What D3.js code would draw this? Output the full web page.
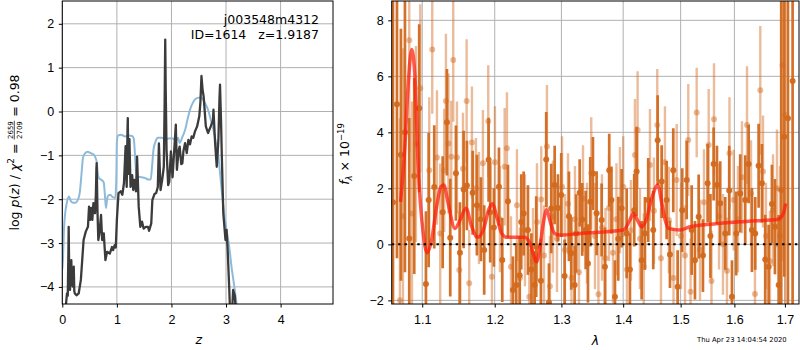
<!DOCTYPE html>
<html>
<head>
<meta charset="utf-8">
<title>p(z) and spectrum</title>
<script src="https://d3js.org/d3.v7.min.js"></script>
<style>
  body { margin: 0; background: #fff; }
  svg { font-family: "DejaVu Sans", sans-serif; }
  .tick text { font-size: 12.5px; fill: #000; }
  .tick line { stroke: #000; stroke-width: 1; }
  .grid line { stroke: #b0b0b0; stroke-width: 1; }
  .pre { white-space: pre; }
</style>
</head>
<body>
<svg id="fig" width="800" height="350"></svg>
<script>

// ---- left panel: log p(z) ----
var blueZ = [0, 0.013, 0.03, 0.05, 0.08, 0.12, 0.16, 0.2, 0.24, 0.29, 0.32, 0.34, 0.36, 0.38, 0.42, 0.46, 0.52, 0.57, 0.6, 0.63, 0.65, 0.67, 0.72, 0.76, 0.78, 0.8, 0.82, 0.84, 0.88, 0.92, 0.97, 0.99, 1.0, 1.02, 1.08, 1.15, 1.22, 1.28, 1.31, 1.33, 1.35, 1.38, 1.45, 1.52, 1.58, 1.62, 1.645, 1.67, 1.71, 1.75, 1.82, 1.9, 2.0, 2.05, 2.09, 2.12, 2.15, 2.2, 2.25, 2.3, 2.34, 2.38, 2.43, 2.48, 2.53, 2.58, 2.63, 2.67, 2.72, 2.77, 2.82, 2.86, 2.89, 2.92, 2.95, 2.98, 3.01, 3.04, 3.07, 3.1, 3.13, 3.16, 3.2, 3.25];
var blueLogP = [-3.6, -3.35, -2.7, -2.35, -2.1, -1.94, -2.05, -2.08, -2.08, -2.0, -1.85, -1.6, -1.3, -1.05, -0.95, -0.92, -0.95, -0.98, -1.03, -1.15, -1.4, -1.52, -1.56, -1.62, -1.9, -2.2, -2.0, -1.92, -1.9, -1.95, -1.97, -1.5, -0.7, -0.55, -0.53, -0.57, -0.55, -0.56, -0.62, -0.95, -1.35, -1.48, -1.5, -1.52, -1.55, -1.55, -1.25, -0.88, -0.68, -0.6, -0.6, -0.62, -0.61, -0.63, -0.66, -0.6, -0.72, -0.58, -0.42, -0.15, 0.04, 0.17, 0.27, 0.31, 0.32, 0.27, 0.15, 0.04, -0.18, -0.42, -0.75, -1.03, -1.4, -1.79, -2.15, -2.47, -2.7, -2.93, -3.2, -3.54, -3.8, -4.07, -4.45, -5.0];

var blackZ = [0.06, 0.068, 0.086, 0.1, 0.112, 0.117, 0.125, 0.13, 0.141, 0.155, 0.165, 0.175, 0.19, 0.2, 0.21, 0.22, 0.23, 0.26, 0.3, 0.34, 0.37, 0.39, 0.43, 0.47, 0.49, 0.51, 0.53, 0.55, 0.57, 0.6, 0.615, 0.625, 0.63, 0.645, 0.66, 0.68, 0.7, 0.71, 0.73, 0.76, 0.79, 0.82, 0.87, 0.91, 0.93, 0.96, 0.98, 1.0, 1.03, 1.07, 1.1, 1.13, 1.16, 1.18, 1.195, 1.2, 1.21, 1.23, 1.25, 1.28, 1.3, 1.32, 1.35, 1.37, 1.4, 1.43, 1.46, 1.49, 1.53, 1.57, 1.59, 1.63, 1.65, 1.69, 1.72, 1.75, 1.77, 1.8, 1.83, 1.86, 1.875, 1.886, 1.895, 1.91, 1.94, 1.96, 1.99, 2.02, 2.05, 2.08, 2.1, 2.13, 2.15, 2.18, 2.2, 2.22, 2.25, 2.28, 2.31, 2.34, 2.37, 2.4, 2.43, 2.47, 2.51, 2.53, 2.55, 2.57, 2.59, 2.63, 2.67, 2.72, 2.76, 2.77, 2.8, 2.83, 2.86, 2.88, 2.89, 2.91, 2.92, 2.95, 2.99, 3.01, 3.03, 3.06, 3.08, 3.11, 3.13, 3.16, 3.2, 3.24];
var blackLogP = [-4.6, -4.39, -4.15, -4.2, -3.2, -2.63, -3.5, -3.8, -4.07, -3.6, -3.39, -3.9, -3.99, -3.7, -3.54, -4.1, -4.15, -4.19, -4.15, -3.84, -3.3, -2.93, -2.74, -2.63, -2.17, -2.47, -2.2, -2.47, -2.09, -2.32, -1.9, -1.3, -1.18, -2.3, -2.93, -2.78, -2.5, -2.36, -2.93, -2.78, -3.39, -3.2, -3.24, -3.09, -3.16, -3.05, -3.1, -2.47, -1.86, -1.82, -1.9, -1.63, -0.79, -1.72, -0.4, -0.15, -1.42, -0.63, -1.72, -1.45, -1.79, -1.56, -1.82, -1.03, -2.17, -2.63, -2.51, -2.67, -2.63, -2.63, -2.72, -2.55, -2.02, -1.88, -1.86, -1.72, -0.73, -1.79, -1.56, -1.26, 0.2, 1.64, 0.5, -0.88, -1.68, -1.6, -0.91, -1.5, -0.9, -0.3, -1.33, -0.9, -0.8, -1.2, -1.18, -0.9, -0.72, -0.95, -0.65, -0.75, -0.57, -0.6, -0.46, -0.34, -0.11, 0.2, 0.81, 0.5, 0.34, -0.34, -0.49, -0.34, -0.2, 0.04, -0.72, -1.26, -0.65, 0.3, 0.61, -0.3, -0.87, -2.32, -2.93, -2.7, -3.16, -4.07, -4.8, -4.6, -4.07, -4.2, -4.9, -6.0];

var zTicks = [0, 1, 2, 3, 4];
var pTicks = [-4, -3, -2, -1, 0, 1, 2];

// ---- right panel: spectrum ----
var darkWave = [1.0620, 1.0671, 1.0722, 1.0774, 1.0830, 1.0895, 1.0960, 1.1049, 1.1085, 1.1160, 1.1273, 1.1331, 1.1376, 1.1454, 1.1509, 1.1560, 1.1606, 1.1686, 1.1746, 1.1803, 1.1849, 1.1912, 1.1935, 1.1988, 1.2061, 1.2109, 1.2192, 1.2265, 1.2314, 1.2364, 1.2388, 1.2424, 1.2488, 1.2540, 1.2589, 1.2613, 1.2684, 1.2765, 1.2807, 1.2842, 1.2895, 1.2946, 1.2997, 1.3050, 1.3118, 1.3154, 1.3208, 1.3233, 1.3288, 1.3329, 1.3384, 1.3421, 1.3458, 1.3501, 1.3561, 1.3643, 1.3697, 1.3768, 1.3805, 1.3863, 1.3918, 1.3975, 1.4059, 1.4114, 1.4187, 1.4228, 1.4314, 1.4371, 1.4428, 1.4515, 1.4592, 1.4662, 1.4750, 1.4809, 1.4868, 1.4946, 1.5029, 1.5109, 1.5200, 1.5260, 1.5328, 1.5407, 1.5494, 1.5546, 1.5606, 1.5668, 1.5730, 1.5825, 1.5901, 1.5953, 1.6035, 1.6112, 1.6209, 1.6276, 1.6340, 1.6405, 1.6472, 1.6538, 1.6603, 1.6671, 1.6737, 1.6798, 1.6873, 1.6925, 1.6986, 1.7062, 1.7158];
var darkFlux = [1.5, 5.0, 3.2, 4.0, 0.21, 2.44, 4.86, -1.42, 1.58, 2.05, 1.15, 4.36, 0.24, 2.54, -0.3, 1.96, 2.1, 1.84, 1.4, 0.9, -0.2, 3.02, 1.15, 0.6, 2.06, -0.56, 1.54, -1.63, -1.45, -1.1, 0.8, 1.1, 0.51, -0.9, -1.45, -0.08, -1.3, 3.03, -2.08, 1.28, 2.12, 1.3, 1.76, -1.13, 1.0, -0.32, -1.45, 0.39, 1.84, 0.89, 0.51, -0.68, 1.52, 2.53, 1.11, 0.87, -0.8, 2.65, 1.58, -1.87, 0.2, 1.29, 0.39, -0.9, 1.22, 2.6, -0.57, 0.39, 1.58, 0.51, 3.72, 2.24, 1.58, -0.36, 2.65, -1.51, 1.22, 2.3, 0.51, -0.57, 0.99, -0.4, 2.18, 0.3, 2.87, 2.12, 1.47, 0.39, 1.92, -1.87, 0.39, 1.82, 1.58, 2.87, 0.51, 0.39, 2.81, 2.18, -0.54, -0.8, 1.44, 0.63, -1.45, 1.94, 3.84, 4.5, 5.83];
var darkErr = [7.5, 5.5, 4.5, 5.0, 4.3, 3.5, 3.0, 2.6, 2.4, 2.2, 2.0, 1.9, 2.1, 1.7, 1.8, 2.1, 1.6, 1.5, 1.8, 1.5, 1.6, 1.5, 1.8, 1.4, 1.4, 1.5, 1.3, 1.2, 1.5, 1.4, 1.7, 1.5, 1.6, 1.3, 1.2, 1.8, 1.5, 1.7, 1.4, 1.6, 1.4, 1.2, 1.5, 1.3, 1.6, 1.3, 1.4, 1.4, 1.2, 1.3, 1.4, 1.4, 1.6, 1.3, 1.5, 1.3, 1.4, 1.3, 1.2, 1.3, 1.5, 1.4, 1.6, 1.3, 1.3, 1.6, 1.4, 1.3, 1.5, 1.4, 1.6, 1.3, 1.4, 1.2, 1.5, 1.3, 1.5, 1.4, 1.6, 1.4, 1.5, 1.3, 1.4, 1.5, 1.3, 1.4, 1.5, 1.3, 1.6, 1.3, 1.5, 1.4, 1.6, 1.4, 1.5, 1.3, 1.5, 1.4, 1.6, 1.5, 1.4, 1.7, 2.5, 7.0, 5.0, 7.0, 8.0];

var lightWave = [1.0709, 1.0748, 1.0830, 1.0865, 1.0917, 1.0974, 1.1093, 1.1133, 1.1196, 1.1240, 1.1294, 1.1317, 1.1351, 1.1390, 1.1417, 1.1468, 1.1500, 1.1551, 1.1602, 1.1638, 1.1676, 1.1732, 1.1775, 1.1831, 1.1907, 1.1960, 1.2003, 1.2075, 1.2144, 1.2177, 1.2236, 1.2324, 1.2369, 1.2443, 1.2508, 1.2564, 1.2624, 1.2689, 1.2731, 1.2776, 1.2822, 1.2869, 1.2931, 1.3010, 1.3055, 1.3103, 1.3158, 1.3213, 1.3277, 1.3341, 1.3405, 1.3474, 1.3534, 1.3591, 1.3648, 1.3706, 1.3764, 1.3830, 1.3888, 1.3946, 1.4001, 1.4064, 1.4131, 1.4200, 1.4245, 1.4285, 1.4350, 1.4458, 1.4527, 1.4585, 1.4650, 1.4720, 1.4790, 1.4872, 1.4929, 1.5006, 1.5079, 1.5138, 1.5180, 1.5292, 1.5353, 1.5426, 1.5514, 1.5566, 1.5613, 1.5707, 1.5782, 1.5858, 1.5906, 1.5986, 1.6069, 1.6146, 1.6244, 1.6322, 1.6400, 1.6505, 1.6559, 1.6618, 1.6698, 1.6759, 1.6839, 1.6900, 1.6951, 1.7008];
var lightFlux = [-2.0, 1.0, 7.29, 1.1, 3.58, 5.57, 2.65, 6.96, 3.1, 0.39, 2.64, 5.12, 3.6, 3.13, 6.58, 3.1, -0.92, 2.7, 5.12, -1.39, 3.64, 2.0, 1.3, 2.9, 4.4, -1.16, 2.93, 0.9, 2.77, 3.43, -0.8, 1.4, -1.2, 0.5, -1.87, -0.6, 0.8, 1.6, -0.4, 3.49, -1.5, 0.99, 0.2, 2.06, -0.2, 1.45, -1.2, 0.9, -1.0, 1.64, 0.4, 2.54, 0.3, -1.78, 0.6, -0.5, 1.3, -0.3, 0.9, 1.58, 2.06, -0.9, 0.5, 3.19, 4.08, 0.2, -0.8, 2.83, 1.2, 4.26, -0.5, 2.93, 0.87, -1.2, 2.3, 0.3, -0.4, 3.73, -1.69, 4.71, -0.2, 1.5, 3.55, -1.31, 4.47, 1.0, 0.0, -0.94, 3.25, 1.58, 0.9, 2.4, 4.26, 1.82, -1.77, 5.5, 2.6, 0.3, -0.6, 1.22, 2.0, 0.3, 6.4, 4.62];
var lightErr = [6.5, 6.0, 4.0, 4.0, 3.5, 3.0, 2.6, 2.3, 2.4, 2.5, 2.2, 2.4, 2.5, 2.0, 2.2, 2.0, 2.1, 2.0, 2.2, 1.9, 2.0, 1.8, 2.0, 1.9, 2.0, 1.8, 2.0, 1.9, 2.1, 2.0, 1.8, 2.0, 1.8, 2.0, 1.7, 1.9, 2.1, 1.9, 1.8, 2.2, 1.8, 2.0, 1.9, 1.8, 2.0, 1.8, 1.7, 1.9, 1.8, 1.9, 1.8, 2.0, 1.9, 1.8, 1.9, 1.8, 1.9, 1.8, 2.0, 1.9, 1.8, 1.9, 1.8, 2.0, 2.1, 1.8, 1.9, 2.0, 1.9, 2.0, 1.8, 2.0, 1.9, 1.8, 2.0, 1.9, 1.8, 2.0, 1.9, 1.6, 1.8, 1.9, 2.0, 1.8, 2.0, 1.9, 1.8, 1.9, 2.0, 1.8, 1.9, 2.0, 2.1, 1.9, 1.8, 2.3, 2.0, 1.9, 1.8, 2.0, 2.1, 2.5, 7.0, 7.0];

var modelWave = [1.0718, 1.0773, 1.0817, 1.0861, 1.0904, 1.0947, 1.1013, 1.1066, 1.1124, 1.1191, 1.125, 1.1289, 1.1348, 1.144, 1.1511, 1.1593, 1.1673, 1.1757, 1.1836, 1.1922, 1.197, 1.2028, 1.21, 1.2173, 1.2443, 1.2518, 1.2619, 1.2669, 1.2719, 1.2771, 1.282, 1.2895, 1.2973, 1.329, 1.4002, 1.4115, 1.4172, 1.4241, 1.4314, 1.4401, 1.4489, 1.4595, 1.4665, 1.4724, 1.4782, 1.499, 1.5172, 1.5604, 1.6236, 1.6865, 1.6967, 1.7016];
var modelFlux = [1.52, 3.49, 5.75, 6.96, 5.99, 2.77, 0.39, -0.3, 0.15, 1.34, 2.06, 2.12, 1.46, 0.57, 0.87, 1.29, 0.63, 0.25, 0.51, 1.29, 1.45, 1.0, 0.39, 0.25, 0.25, 0.04, -0.62, -0.09, 0.74, 1.24, 0.86, 0.39, 0.33, 0.39, 0.51, 0.87, 1.1, 0.87, 0.63, 0.93, 1.64, 2.12, 1.46, 0.87, 0.57, 0.51, 0.63, 0.73, 0.82, 0.9, 1.1, 1.46];

var wTicks = [1.1, 1.2, 1.3, 1.4, 1.5, 1.6, 1.7];
var fTicks = [-2, 0, 2, 4, 6, 8];

var svg = d3.select("#fig");

function gridAndAxes(box, x, y, xt, yt, xfmt, yfmt, name) {
  svg.append("defs").append("clipPath").attr("id", name)
    .append("rect").attr("x", box.left).attr("y", box.top)
    .attr("width", box.right - box.left).attr("height", box.bottom - box.top);

  var g = svg.append("g").attr("class", "grid");
  xt.forEach(function(v) {
    g.append("line").attr("x1", x(v)).attr("x2", x(v)).attr("y1", box.top).attr("y2", box.bottom);
  });
  yt.forEach(function(v) {
    g.append("line").attr("x1", box.left).attr("x2", box.right).attr("y1", y(v)).attr("y2", y(v));
  });

  var ax = svg.append("g").attr("transform", "translate(0," + box.bottom + ")")
    .call(d3.axisBottom(x).tickValues(xt).tickFormat(xfmt).tickSize(3.5).tickSizeOuter(0).tickPadding(7.5));
  ax.select(".domain").remove();
  var ay = svg.append("g").attr("transform", "translate(" + box.left + ",0)")
    .call(d3.axisLeft(y).tickValues(yt).tickFormat(yfmt).tickSize(3.5).tickSizeOuter(0).tickPadding(4.5));
  ay.select(".domain").remove();
  return svg.append("g").attr("clip-path", "url(#" + name + ")");
}

function frame(box) {
  svg.append("rect").attr("x", box.left).attr("y", box.top)
    .attr("width", box.right - box.left).attr("height", box.bottom - box.top)
    .attr("fill", "none").attr("stroke", "#000").attr("stroke-width", 1);
}

// left panel
var pz = {left: 62.3, right: 333, top: 1, bottom: 304};
var xz = d3.scaleLinear().domain([0, 4.96]).range([pz.left, pz.right]);
var yz = d3.scaleLinear().domain([-4.39, 2.52]).range([pz.bottom, pz.top]);
var gz = gridAndAxes(pz, xz, yz, zTicks, pTicks, d3.format("d"), d3.format("d"), "clipz");

var lineZ = d3.line().x(function(d) { return xz(d[0]); }).y(function(d) { return yz(d[1]); });
gz.append("path").datum(d3.zip(blueZ, blueLogP))
  .attr("d", lineZ.curve(d3.curveMonotoneX)).attr("fill", "none")
  .attr("stroke", "#8dbada").attr("stroke-width", 2);
gz.append("path").datum(d3.zip(blackZ, blackLogP))
  .attr("d", lineZ.curve(d3.curveLinear)).attr("fill", "none")
  .attr("stroke", "#3b3b3b").attr("stroke-width", 2.3).attr("stroke-linejoin", "round");
frame(pz);

svg.append("text").attr("x", 319).attr("y", 24).attr("text-anchor", "end")
  .attr("font-size", 12.5).text("j003548m4312");
svg.append("text").attr("class", "pre").attr("x", 319).attr("y", 39).attr("text-anchor", "end")
  .attr("font-size", 12.5).text("ID=1614   z=1.9187");

svg.append("text").attr("x", xz(2.5)).attr("y", 344).attr("text-anchor", "middle")
  .attr("font-size", 12.5).attr("font-style", "italic").text("z");

// rotated y label with a small fraction
var lab = svg.append("g");
var t1 = lab.append("text").attr("class", "pre").attr("font-size", 12.5);
t1.append("tspan").text("log ");
t1.append("tspan").attr("font-style", "italic").text("p");
t1.append("tspan").text("(");
t1.append("tspan").attr("font-style", "italic").text("z");
t1.append("tspan").text(") / ");
t1.append("tspan").attr("font-style", "italic").text("χ");
t1.append("tspan").attr("font-size", 9).attr("dy", -5).text("2");
t1.append("tspan").attr("dy", 5).text(" = ");
var w1 = t1.node().getComputedTextLength();
var num = lab.append("text").attr("font-size", 7).attr("text-anchor", "middle").attr("y", -5.5).text("2659");
var fw = num.node().getComputedTextLength() + 1;
num.attr("x", w1 + fw / 2);
lab.append("text").attr("font-size", 7).attr("text-anchor", "middle").attr("x", w1 + fw / 2).attr("y", 3.5).text("2709");
lab.append("line").attr("x1", w1).attr("x2", w1 + fw).attr("y1", -4.2).attr("y2", -4.2)
  .attr("stroke", "#000").attr("stroke-width", 0.7);
var t3 = lab.append("text").attr("class", "pre").attr("font-size", 12.5).attr("x", w1 + fw).text(" = 0.98");
var wAll = w1 + fw + t3.node().getComputedTextLength();
lab.attr("transform", "translate(18.5," + (152.5 + wAll / 2) + ") rotate(-90)");

// right panel
var pw = {left: 391.7, right: 799, top: 1, bottom: 304};
var xw = d3.scaleLog().domain([1.0604, 1.729]).range([pw.left, pw.right]);
var yf = d3.scaleLinear().domain([-2.13, 8.69]).range([pw.bottom, pw.top]);
var gw = gridAndAxes(pw, xw, yf, wTicks, fTicks, d3.format(".1f"), d3.format("d"), "clipw");

function errSeries(wave, flux, err, color, op, width, r) {
  var pts = wave.map(function(w, i) { return {w: w, f: flux[i], e: err[i]}; });
  var g = gw.append("g");
  g.selectAll("line").data(pts).enter().append("line")
    .attr("x1", function(d) { return xw(d.w); }).attr("x2", function(d) { return xw(d.w); })
    .attr("y1", function(d) { return yf(d.f - d.e); }).attr("y2", function(d) { return yf(d.f + d.e); })
    .attr("stroke", color).attr("stroke-opacity", op).attr("stroke-width", width);
  g.selectAll("circle").data(pts).enter().append("circle")
    .attr("cx", function(d) { return xw(d.w); }).attr("cy", function(d) { return yf(d.f); })
    .attr("r", r).attr("fill", color).attr("fill-opacity", op);
}
errSeries(lightWave, lightFlux, lightErr, "#d2691e", 0.45, 2.4, 3);
errSeries(darkWave, darkFlux, darkErr, "#d2691e", 0.95, 2.7, 3);

gw.append("path").datum(d3.zip(modelWave, modelFlux))
  .attr("d", d3.line().x(function(d) { return xw(d[0]); }).y(function(d) { return yf(d[1]); }).curve(d3.curveMonotoneX))
  .attr("fill", "none").attr("stroke", "#ff1a0a").attr("stroke-opacity", 0.72).attr("stroke-width", 3.5);

gw.append("line").attr("x1", pw.left).attr("x2", pw.right).attr("y1", yf(0)).attr("y2", yf(0))
  .attr("stroke", "#000").attr("stroke-width", 2).attr("stroke-dasharray", "2.4,4");
frame(pw);

svg.append("text").attr("x", (pw.left + pw.right) / 2).attr("y", 345).attr("text-anchor", "middle")
  .attr("font-size", 12.5).attr("font-style", "italic").text("λ");

var rl = svg.append("text").attr("class", "pre").attr("transform", "translate(348.5,154) rotate(-90)")
  .attr("text-anchor", "middle").attr("font-size", 12.5);
rl.append("tspan").attr("font-style", "italic").text("f");
rl.append("tspan").attr("font-size", 8.5).attr("font-style", "italic").attr("dy", 3).text("λ");
rl.append("tspan").attr("dy", -3).text(" × 10");
rl.append("tspan").attr("font-size", 8.5).attr("dy", -5).text("−19");

svg.append("text").attr("x", 697).attr("y", 342).attr("font-size", 6.8).text("Thu Apr 23 14:04:54 2020");

</script>
</body>
</html>
